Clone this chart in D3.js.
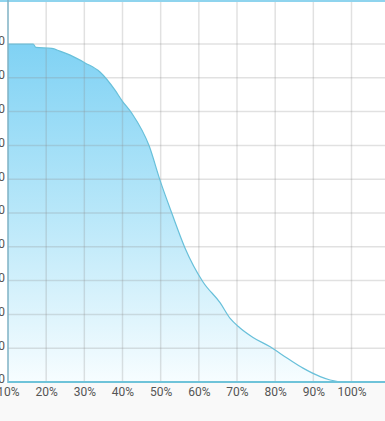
<!DOCTYPE html>
<html><head><meta charset="utf-8">
<script src="https://cdn.jsdelivr.net/npm/d3@7"></script>
<style>html,body{margin:0;padding:0;background:#fff;overflow:hidden}svg{display:block}</style>
</head><body>
<svg id="c" width="385" height="421"></svg>
<script>
const pct = [10, 16.6, 17.3, 21.5, 23.6, 26.3, 30.2, 34.1, 38.0, 39.9, 42.5, 47.0, 49.8, 53.0, 56.4, 61.1, 65.6, 68.2, 70.8, 74.2, 78.7, 83.1, 87.3, 91.8, 94.4, 98.3, 100];
const values = [100, 100, 99.0, 98.7, 97.9, 96.7, 94.4, 91.7, 86.4, 83.2, 79.4, 69.8, 59.8, 49.7, 39.6, 29.6, 23.4, 18.8, 16.0, 13.2, 10.4, 7.1, 4.1, 1.6, 0.6, 0, 0];
const xTicks = [10, 20, 30, 40, 50, 60, 70, 80, 90, 100];
const yTicks = [0, 10, 20, 30, 40, 50, 60, 70, 80, 90, 100];

const W = 385, H = 421;
const svg = d3.select('#c');
const x = d3.scaleLinear().domain([10, 100]).range([8, 351.5]);
const y = d3.scaleLinear().domain([0, 100]).range([382, 44]);
const data = pct.map((p, i) => ({p, v: values[i]}));

svg.append('rect').attr('x', 0).attr('y', 383).attr('width', W).attr('height', H - 383).attr('fill', '#f9f9f9');

const defs = svg.append('defs');
const g = defs.append('linearGradient').attr('id', 'fill')
  .attr('gradientUnits', 'userSpaceOnUse').attr('x1', 0).attr('y1', y(100)).attr('x2', 0).attr('y2', y(0));
g.append('stop').attr('offset', '0%').attr('stop-color', '#80d2f4');
g.append('stop').attr('offset', '50%').attr('stop-color', '#b8e7f9');
g.append('stop').attr('offset', '100%').attr('stop-color', '#f7fdff');

const curve = d3.curveMonotoneX;
svg.append('path').datum(data)
  .attr('d', d3.area().curve(curve).x(d => x(d.p)).y0(y(0)).y1(d => y(d.v)))
  .attr('fill', 'url(#fill)');

// grid
const grid = svg.append('g');
grid.selectAll('line.h').data(yTicks.slice(1)).join('line')
  .attr('x1', 8).attr('x2', W).attr('y1', d => y(d)).attr('y2', d => y(d))
  .attr('stroke', 'rgba(140,140,140,0.26)').attr('stroke-width', 1.5);
grid.selectAll('line.v').data(xTicks.slice(1)).join('line')
  .attr('x1', d => x(d)).attr('x2', d => x(d)).attr('y1', 0).attr('y2', 382)
  .attr('stroke', 'rgba(140,140,140,0.26)').attr('stroke-width', 1.5);

svg.append('path').datum(data)
  .attr('d', d3.line().curve(curve).x(d => x(d.p)).y(d => y(d.v)))
  .attr('fill', 'none').attr('stroke', '#68c0da').attr('stroke-width', 1.2);

// top border
svg.append('line').attr('x1', 0).attr('x2', W).attr('y1', 1).attr('y2', 1)
  .attr('stroke', '#8fd4ee').attr('stroke-width', 2);

// axes
svg.append('line').attr('x1', 8).attr('x2', 8).attr('y1', 0).attr('y2', 383)
  .attr('stroke', '#7fb2c4').attr('stroke-width', 1.5);
svg.append('line').attr('x1', 8).attr('x2', W).attr('y1', 382).attr('y2', 382)
  .attr('stroke', '#6fc3d9').attr('stroke-width', 2);

const xAxis = svg.append('g').attr('transform', 'translate(0,383)')
  .call(d3.axisBottom(x).tickValues(xTicks).tickSize(0).tickPadding(4).tickFormat(d => d + '%'));
xAxis.select('.domain').remove();
xAxis.selectAll('text').attr('font-family', 'Roboto, sans-serif').attr('font-size', 12).attr('fill', '#555');

const yAxis = svg.append('g').attr('transform', 'translate(8,-3)')
  .call(d3.axisLeft(y).tickValues(yTicks).tickSize(0).tickPadding(3));
yAxis.select('.domain').remove();
yAxis.selectAll('text').attr('font-family', 'Roboto, sans-serif').attr('font-size', 12).attr('fill', '#555');
</script>
</body></html>
